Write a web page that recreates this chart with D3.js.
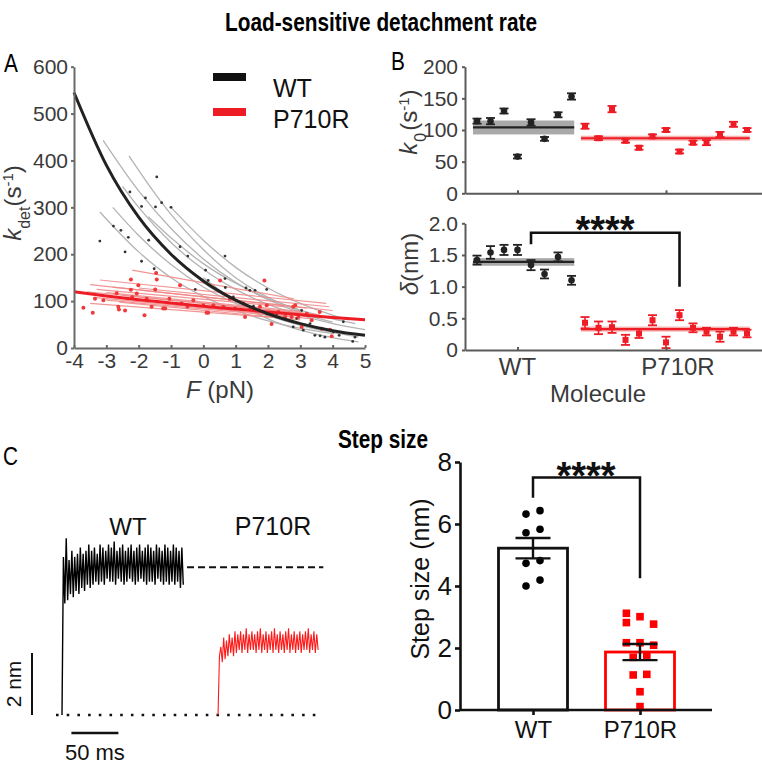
<!DOCTYPE html>
<html><head><meta charset="utf-8">
<script src="https://cdn.jsdelivr.net/npm/d3@7/dist/d3.min.js"></script>
<style>
html,body{margin:0;padding:0;background:#fff;}
svg{display:block;}
</style></head><body>
<svg id="fig" width="762" height="765"></svg>
<script>
// ================= DATA =================
const titleTop = "Load-sensitive detachment rate";
const titleBottom = "Step size";
const groups = ["WT", "P710R"];

// ---- Panel A: k_det vs force ----
const forceTicks = [-4, -3, -2, -1, 0, 1, 2, 3, 4, 5];
const kdetTicks = [0, 100, 200, 300, 400, 500, 600];
const fitForce = [-4, -3, -2, -1, 0, 1, 2, 3, 4, 5];
const wtFitKdet = [545, 390, 279, 200, 143, 102, 73, 52, 37, 27];
const p710rFitKdet = [120, 111, 103, 96, 89, 83, 77, 71, 65, 60];
// individual WT molecule fits: [force, kdet] samples
const wtMoleculeFits = [
  [[-3.1,443],[-2,335],[-1,255],[0,190],[1,140],[2,103],[3,75],[4,55]],
  [[-2.3,410],[-1.5,330],[-1,285],[0,210],[1,150],[2,108],[3,78]],
  [[-3.2,290],[-2,205],[-1,150],[0,110],[1,80],[2,58],[3,42],[4,31]],
  [[-2.8,300],[-2,240],[-1,178],[0,130],[1,95],[2,69],[3,50],[4,37],[4.8,28]],
  [[-1.7,280],[-1,235],[0,180],[1,138],[2,106],[3,81],[4,62],[4.7,52]],
  [[-2.5,345],[-2,300],[-1,225],[0,168],[1,125],[2,93],[3,70],[4,52],[5,39]],
  [[-0.5,170],[0,140],[1,100],[2,70],[3,48],[4,33],[4.8,24]],
  [[0,150],[1,100],[2,62],[3,38],[4,22],[4.8,13]],
  [[-1,300],[0,230],[1,172],[2,128],[3,95],[4,70],[4.5,60]]
];
// individual P710R molecule fits: [F start, kdet start, F end, kdet end]
const p710rMoleculeFits = [
  [-2.2,166,2.8,105], [-3.2,145,3.8,95], [-3.5,135,3.2,85], [-2.8,130,4.0,80],
  [-3.3,125,2.5,88], [-3.6,120,3.5,72], [-3.0,118,3.0,78], [-2.5,112,3.6,70],
  [-3.4,108,2.7,68], [-3.0,102,3.4,62], [-2.6,98,3.0,60], [-3.5,95,2.2,65],
  [-2.0,128,3.9,88]
];
const wtPointForce = [-3.2,-2.78,-2.55,-2.42,-2.32,-2.27,-1.91,-1.91,-1.79,-1.69,-1.52,-1.48,-1.44,-1.29,-1.0,-0.72,-0.48,0.07,0.15,-0.25,0.67,0.67,0.68,0.93,1.32,1.44,1.6,1.96,1.96,1.55,2.13,2.27,2.78,2.89,3.04,3.09,3.3,3.45,3.61,3.76,4.02,4.2,4.33,4.62,4.69];
const wtPointKdet  = [228,260,251,205,236,333,302,185,320,230,169,301,365,310,300,216,196,166,144,125,196,148,129,109,128,123,123,125,73,89,73,73,45,63,80,38,52,27,26,23,34,27,56,14,23];
const p710rPointForce = [-3.71,-3.42,-3.35,-3.09,-2.68,-2.63,-2.61,-2.42,-2.24,-2.24,-2.2,-2.06,-2.01,-1.82,-1.75,-1.6,-1.49,-1.46,-1.44,-1.24,-1.18,-1.05,-0.72,-0.67,-0.49,-0.31,0.0,0.1,0.15,0.31,0.52,0.62,0.82,0.98,1.24,1.29,1.44,1.75,1.89,1.96,2.11,2.32,2.53,2.73,2.78,2.84,2.94,3.04,3.2,3.35,3.6,3.66,3.92,3.97];
const p710rPointKdet  = [86,75,105,102,117,88,82,80,124,146,109,116,134,70,105,88,125,160,146,84,84,105,134,95,88,102,91,75,75,91,144,88,105,84,95,66,82,88,144,91,51,77,66,66,88,91,66,45,73,59,77,41,39,25];

// ---- Panel B: per-molecule k0 and delta ----
const k0Ticks = [0, 50, 100, 150, 200];
const deltaTicks = [0, 0.5, 1.0, 1.5, 2.0];
const wtK0 = [114, 114, 130, 58, 112, 86, 124, 153];
const wtK0Err = [4, 5, 4, 3, 5, 3, 4, 5];
const p710rK0 = [106, 87, 133, 83, 72, 90, 100, 66, 80, 80, 93, 109, 100];
const p710rK0Err = [4, 3, 5, 3, 3, 3, 3, 3, 3, 4, 4, 4, 3];
const wtK0Mean = [104, 93, 115];      // mean, band low, band high
const p710rK0Mean = [87, 83, 91];
const wtDelta = [1.42, 1.54, 1.58, 1.58, 1.34, 1.20, 1.47, 1.10];
const wtDeltaErr = [0.07, 0.1, 0.08, 0.08, 0.08, 0.07, 0.07, 0.07];
const p710rDelta = [0.43, 0.35, 0.36, 0.16, 0.26, 0.47, 0.12, 0.55, 0.35, 0.29, 0.21, 0.29, 0.26];
const p710rDeltaErr = [0.09, 0.1, 0.09, 0.08, 0.07, 0.08, 0.09, 0.08, 0.07, 0.06, 0.08, 0.06, 0.06];
const wtDeltaMean = [1.39, 1.33, 1.45];
const p710rDeltaMean = [0.33, 0.29, 0.37];

// ---- Panel C: ensemble-averaged traces (nm), sampled every 1.5 ms ----
const traceStepMs = 1.5;
const wtTraceStartMs = 0;
const wtTraceNm = [0,
  5.1,3.6, 5.7,3.7, 5.0,3.9, 5.3,3.8, 5.1,4.0, 5.2,3.9, 5.4,4.1, 5.2,4.0, 5.3,4.2, 5.5,4.1,
  5.3,4.2, 5.4,4.3, 5.2,4.2, 5.5,4.3, 5.4,4.2, 5.3,4.4, 5.5,4.3, 5.4,4.3, 5.6,4.2, 5.3,4.4,
  5.4,4.3, 5.5,4.2, 5.3,4.3, 5.4,4.4, 5.5,4.3, 5.3,4.2, 5.4,4.3, 5.5,4.4, 5.3,4.3, 5.4,4.2,
  5.5,4.3, 5.4,4.3, 5.3,4.2, 5.5,4.4, 5.4,4.3, 5.3,4.2, 5.5,4.3, 5.4,4.2, 5.3,4.3, 5.5,4.2,
  5.4,4.3, 5.3,4.1, 5.4,4.2];
const p710rTraceStartMs = 166;
const p710rTraceNm = [0, 1.9,
  2.2,1.7, 2.5,1.8, 2.4,1.9, 2.6,2.0, 2.5,1.9, 2.7,2.0, 2.6,2.1, 2.7,2.0, 2.6,2.1, 2.8,2.0,
  2.6,2.1, 2.7,2.1, 2.6,2.0, 2.7,2.1, 2.8,2.0, 2.6,2.1, 2.7,2.0, 2.6,2.1, 2.7,2.0, 2.8,2.1,
  2.6,2.0, 2.7,2.1, 2.6,2.0, 2.7,2.1, 2.8,2.0, 2.6,2.1, 2.7,2.0, 2.6,2.1, 2.7,2.0, 2.6,2.1,
  2.7,2.1, 2.8,2.0, 2.6,2.1, 2.7,2.0, 2.6,2.1];
const wtPlateauNm = 4.77;
const scaleBarMs = 50;
const scaleBarNm = 2;

// ---- Panel C: step size bar chart ----
const stepTicks = [0, 2, 4, 6, 8];
const stepMean = [5.22, 1.87];
const stepSem = [0.33, 0.26];
const wtStepSizes = [6.32, 6.43, 5.72, 5.83, 4.73, 4.82, 4.0, 4.19];
const p710rStepSizes = [3.12, 3.01, 2.82, 2.77, 2.17, 2.17, 2.09, 1.70, 1.77, 1.13, 1.15, 0.59, 0.11];
const sigLabel = "****";

// ================= DRAWING =================
const SANS = "Arial, 'Liberation Sans', Helvetica, sans-serif";
const RED = "#ee1c25";
const svg = d3.select("#fig");

function styleAxis(g, color, width, size, textColor) {
  g.attr("font-family", SANS).attr("font-size", size);
  g.select(".domain").attr("stroke", color).attr("stroke-width", width);
  g.selectAll(".tick line").attr("stroke", color).attr("stroke-width", width);
  g.selectAll(".tick text").attr("fill", textColor);
}
function txt(x, y, s, size, opts = {}) {
  return svg.append("text").attr("x", x).attr("y", y)
    .attr("text-anchor", opts.anchor || "middle")
    .attr("font-family", SANS)
    .attr("font-size", size)
    .attr("font-weight", opts.weight || "normal")
    .attr("fill", opts.fill || "#111").text(s);
}
// condensed text (narrow look) via horizontal scaling
function narrow(x, y, s, size, weight, anchor) {
  return svg.append("g").attr("transform", `translate(${x},${y}) scale(0.8,1)`)
    .append("text").attr("text-anchor", anchor).attr("font-family", SANS)
    .attr("font-size", size).attr("font-weight", weight).attr("fill", "#000").text(s);
}

// Titles and panel letters
narrow(381, 31, titleTop, 26, "bold", "middle");
narrow(383, 448, titleBottom, 26, "bold", "middle");
narrow(4, 72, "A", 26, "normal", "start");
narrow(391, 70, "B", 26, "normal", "start");
narrow(3, 465, "C", 26, "normal", "start");

// ---------- Panel A ----------
const xA = d3.scaleLinear().domain([-4, 5]).range([74, 365]);
const yA = d3.scaleLinear().domain([0, 600]).range([348, 66.7]);
const gA = svg.append("g");
const lineA = d3.line().x(d => xA(d[0])).y(d => yA(d[1])).curve(d3.curveMonotoneX);

gA.selectAll(".gfit").data(wtMoleculeFits).join("path")
  .attr("d", lineA).attr("fill", "none").attr("stroke", "#b4b4b4").attr("stroke-width", 1.3);
gA.selectAll(".rfit").data(p710rMoleculeFits).join("path")
  .attr("d", d => lineA([[d[0], d[1]], [d[2], d[3]]]))
  .attr("fill", "none").attr("stroke", "#f08a8a").attr("stroke-width", 1.2).attr("opacity", 0.9);
gA.selectAll(".wpt").data(wtPointForce).join("circle")
  .attr("cx", d => xA(d)).attr("cy", (d, i) => yA(wtPointKdet[i])).attr("r", 1.4).attr("fill", "#333");
gA.selectAll(".rpt").data(p710rPointForce).join("circle")
  .attr("cx", d => xA(d)).attr("cy", (d, i) => yA(p710rPointKdet[i])).attr("r", 2).attr("fill", "#f03a3a");
gA.append("path").attr("d", lineA(fitForce.map((f, i) => [f, p710rFitKdet[i]])))
  .attr("fill", "none").attr("stroke", RED).attr("stroke-width", 3);
gA.append("path").attr("d", lineA(fitForce.map((f, i) => [f, wtFitKdet[i]])))
  .attr("fill", "none").attr("stroke", "#222").attr("stroke-width", 3);

const axAy = gA.append("g").attr("transform", `translate(${xA(-4)},0)`)
  .call(d3.axisLeft(yA).tickValues(kdetTicks).tickSizeInner(3).tickSizeOuter(0).tickPadding(3));
styleAxis(axAy, "#6a6a6a", 2, 21, "#3a3a3a");
const axAx = gA.append("g").attr("transform", `translate(0,${yA(0)})`)
  .call(d3.axisBottom(xA).tickValues(forceTicks).tickFormat(d => String(d)).tickSizeInner(-3).tickSizeOuter(0).tickPadding(5));
styleAxis(axAx, "#6a6a6a", 2, 21, "#3a3a3a");

// Legend
[["#111", 77, 97], [RED, 112, 128]].forEach(([c, ly, ty], i) => {
  gA.append("line").attr("x1", 213).attr("x2", 246).attr("y1", ly).attr("y2", ly)
    .attr("stroke", c).attr("stroke-width", 8);
  txt(273, ty, groups[i], 25, {anchor: "start"});
});
// axis titles
const ylA = svg.append("text").attr("transform", "translate(21,203) rotate(-90)")
  .attr("text-anchor", "middle").attr("font-family", SANS).attr("font-size", 24).attr("fill", "#3a3a3a");
ylA.append("tspan").attr("font-style", "italic").text("k");
ylA.append("tspan").attr("font-size", 16).attr("baseline-shift", "sub").text("det");
ylA.append("tspan").text("(s");
ylA.append("tspan").attr("font-size", 15).attr("baseline-shift", "super").text("-1");
ylA.append("tspan").text(")");
const xlA = svg.append("text").attr("x", 220).attr("y", 398).attr("text-anchor", "middle")
  .attr("font-family", SANS).attr("font-size", 24).attr("fill", "#3a3a3a");
xlA.append("tspan").attr("font-style", "italic").text("F");
xlA.append("tspan").text(" (pN)");

// ---------- Panel B ----------
const xB = d3.scaleLinear().domain([-0.89, 21.11]).range([465, 762]);
const yK0 = d3.scaleLinear().domain([0, 200]).range([193.3, 66.7]);
const yDel = d3.scaleLinear().domain([0, 2]).range([350, 223.3]);
const nWT = wtK0.length;

function moleculePanel(yS, ticks, fmt, wtV, wtE, pV, pE, wtM, pM) {
  const g = svg.append("g");
  [[wtM, 0, nWT - 1, "#9a9a9a", "#222"], [pM, nWT, nWT + pV.length - 1, "#f5a3a3", RED]].forEach(([m, a, b, bc, lc]) => {
    g.append("rect").attr("x", xB(a - 0.3)).attr("width", xB(b + 0.2) - xB(a - 0.3))
      .attr("y", yS(m[2])).attr("height", yS(m[1]) - yS(m[2])).attr("fill", bc).attr("opacity", 0.85);
    g.append("line").attr("x1", xB(a - 0.3)).attr("x2", xB(b + 0.2)).attr("y1", yS(m[0])).attr("y2", yS(m[0]))
      .attr("stroke", lc).attr("stroke-width", 2.2);
  });
  const all = wtV.map((v, i) => ({i, v, e: wtE[i], c: "#222", sq: false}))
    .concat(pV.map((v, i) => ({i: nWT + i, v, e: pE[i], c: RED, sq: true})));
  const pts = g.selectAll(".pt").data(all).join("g");
  pts.append("line").attr("x1", d => xB(d.i)).attr("x2", d => xB(d.i))
    .attr("y1", d => yS(d.v - d.e)).attr("y2", d => yS(d.v + d.e)).attr("stroke", d => d.c).attr("stroke-width", 1.6);
  [-1, 1].forEach(s => pts.append("line").attr("x1", d => xB(d.i) - 4.5).attr("x2", d => xB(d.i) + 4.5)
    .attr("y1", d => yS(d.v + s * d.e)).attr("y2", d => yS(d.v + s * d.e)).attr("stroke", d => d.c).attr("stroke-width", 1.8));
  pts.filter(d => !d.sq).append("circle").attr("cx", d => xB(d.i)).attr("cy", d => yS(d.v)).attr("r", 3.3).attr("fill", d => d.c);
  pts.filter(d => d.sq).append("rect").attr("x", d => xB(d.i) - 3).attr("y", d => yS(d.v) - 3)
    .attr("width", 6).attr("height", 6).attr("fill", d => d.c);
  const ay = g.append("g").attr("transform", `translate(${xB.range()[0]},0)`)
    .call(d3.axisLeft(yS).tickValues(ticks).tickFormat(fmt).tickSizeInner(3).tickSizeOuter(0).tickPadding(4));
  styleAxis(ay, "#5a5a5a", 2, 21, "#3a3a3a");
  const ax = g.append("g").attr("transform", `translate(0,${yS(0)})`)
    .call(d3.axisBottom(xB).tickValues([3, 14]).tickFormat("").tickSizeInner(-3).tickSizeOuter(0));
  styleAxis(ax, "#5a5a5a", 2, 21, "#3a3a3a");
  return g;
}
moleculePanel(yK0, k0Ticks, d => String(d), wtK0, wtK0Err, p710rK0, p710rK0Err, wtK0Mean, p710rK0Mean);
moleculePanel(yDel, deltaTicks, d => d === 0 ? "0" : d.toFixed(1), wtDelta, wtDeltaErr, p710rDelta, p710rDeltaErr, wtDeltaMean, p710rDeltaMean);

const ylK = svg.append("text").attr("transform", "translate(417,122) rotate(-90)")
  .attr("text-anchor", "middle").attr("font-family", SANS).attr("font-size", 24).attr("fill", "#3a3a3a");
ylK.append("tspan").attr("font-style", "italic").text("k");
ylK.append("tspan").attr("font-size", 16).attr("baseline-shift", "sub").attr("dx", 1).text("0");
ylK.append("tspan").attr("dx", 2).text("(s");
ylK.append("tspan").attr("font-size", 15).attr("baseline-shift", "super").text("-1");
ylK.append("tspan").text(")");
const ylD = svg.append("text").attr("transform", "translate(418,264) rotate(-90)")
  .attr("text-anchor", "middle").attr("font-family", SANS).attr("font-size", 24).attr("fill", "#3a3a3a");
ylD.append("tspan").attr("font-style", "italic").text("δ");
ylD.append("tspan").text("(nm)");
txt(xB(3), 375, groups[0], 24, {fill: "#3a3a3a"});
txt(xB(14) + 12, 375, groups[1], 24, {fill: "#3a3a3a"});
txt(598, 402, "Molecule", 24, {fill: "#3a3a3a"});
svg.append("path").attr("d", `M${xB(4)},${yDel(1.67)}V${yDel(1.85)}H${xB(15)}V${yDel(1.0)}`)
  .attr("fill", "none").attr("stroke", "#111").attr("stroke-width", 2.6);
txt(605, 243, sigLabel, 38, {weight: "bold"});

// ---------- Panel C: traces ----------
const xT = d3.scaleLinear().domain([0, 100]).range([62, 156]);
const yN = d3.scaleLinear().domain([0, 2]).range([715, 653]);
const traceLine = (start) => d3.line().x((d, i) => xT(start + i * traceStepMs)).y(d => yN(d));
svg.append("path").attr("d", d3.line().x(d => xT(d)).y(() => yN(0))([-6.4, 271]))
  .attr("stroke", "#111").attr("stroke-width", 2.6).attr("stroke-dasharray", "2.6 8.1").attr("fill", "none");
svg.append("path").attr("d", d3.line().x(d => xT(d)).y(() => yN(wtPlateauNm))([133, 278]))
  .attr("stroke", "#111").attr("stroke-width", 2).attr("stroke-dasharray", "7 4").attr("fill", "none");
svg.append("path").attr("d", traceLine(wtTraceStartMs)(wtTraceNm))
  .attr("fill", "none").attr("stroke", "#000").attr("stroke-width", 1.4);
svg.append("path").attr("d", traceLine(p710rTraceStartMs)(p710rTraceNm))
  .attr("fill", "none").attr("stroke", "#ff1a1a").attr("stroke-width", 1.1);
svg.append("line").attr("x1", 32).attr("x2", 32).attr("y1", yN(0)).attr("y2", yN(scaleBarNm))
  .attr("stroke", "#111").attr("stroke-width", 2);
svg.append("line").attr("x1", xT(10)).attr("x2", xT(10 + scaleBarMs)).attr("y1", 733).attr("y2", 733)
  .attr("stroke", "#111").attr("stroke-width", 2.4);
svg.append("text").attr("transform", "translate(21,684) rotate(-90)").attr("text-anchor", "middle")
  .attr("font-family", SANS).attr("font-size", 21).attr("fill", "#111").text(scaleBarNm + " nm");
txt(xT(35), 760, scaleBarMs + " ms", 22);
txt(128, 535, groups[0], 24);
txt(273, 535, groups[1], 25);

// ---------- Panel C: bar chart ----------
const xBar = d3.scalePoint().domain(groups).range([533, 640]);
const yBar = d3.scaleLinear().domain([0, 8]).range([710, 462]);
const barW = 69;
const gBar = svg.append("g");
gBar.selectAll(".bar").data(groups).join("rect")
  .attr("x", d => xBar(d) - barW / 2).attr("width", barW)
  .attr("y", (d, i) => yBar(stepMean[i])).attr("height", (d, i) => yBar(0) - yBar(stepMean[i]))
  .attr("fill", "#fff").attr("stroke", (d, i) => i ? "#ff0000" : "#111").attr("stroke-width", 2.8);
gBar.selectAll(".wdot").data(wtStepSizes).join("circle")
  .attr("cx", (d, i) => xBar("WT") + (i % 2 ? 7 : -7)).attr("cy", d => yBar(d)).attr("r", 3.8).attr("fill", "#000");
const jitterP = [-2, 0, -2, 2, -2, 0, 2, -1, 1, -1, 1, 0, 0];
gBar.selectAll(".psq").data(p710rStepSizes).join("rect")
  .attr("x", (d, i) => xBar("P710R") + jitterP[i] * 6.8 - 3.8).attr("y", d => yBar(d) - 3.8)
  .attr("width", 7.6).attr("height", 7.6).attr("fill", "#ff0000");
groups.forEach((gname, i) => {
  const cx = xBar(gname);
  gBar.append("path").attr("d",
    `M${cx},${yBar(stepMean[i] - stepSem[i])}V${yBar(stepMean[i] + stepSem[i])}` +
    `M${cx - 17.5},${yBar(stepMean[i] + stepSem[i])}H${cx + 17.5}` +
    `M${cx - 17.5},${yBar(stepMean[i] - stepSem[i])}H${cx + 17.5}`)
    .attr("stroke", "#111").attr("stroke-width", 2.4).attr("fill", "none");
});
const byA = gBar.append("g").attr("transform", "translate(460,0)")
  .call(d3.axisLeft(yBar).tickValues(stepTicks).tickSizeInner(5).tickSizeOuter(0).tickPadding(3));
styleAxis(byA, "#111", 2.6, 26, "#111");
gBar.append("line").attr("x1", 460).attr("x2", 712).attr("y1", yBar(0)).attr("y2", yBar(0))
  .attr("stroke", "#111").attr("stroke-width", 2.6);
const bxA = gBar.append("g").attr("transform", `translate(0,${yBar(0)})`)
  .call(d3.axisBottom(xBar).tickSizeInner(5).tickSizeOuter(0).tickPadding(6));
bxA.select(".domain").remove();
styleAxis(bxA, "#111", 2.6, 24, "#111");
svg.append("text").attr("transform", "translate(429,579) rotate(-90)").attr("text-anchor", "middle")
  .attr("font-family", SANS).attr("font-size", 25).attr("fill", "#111").text("Step size (nm)");
svg.append("path").attr("d", `M${xBar("WT")},${yBar(6.85)}V${yBar(7.5)}H${xBar("P710R")}V${yBar(4.25)}`)
  .attr("fill", "none").attr("stroke", "#111").attr("stroke-width", 2.5);
txt(586, 489, sigLabel, 38, {weight: "bold"});
</script></body></html>
